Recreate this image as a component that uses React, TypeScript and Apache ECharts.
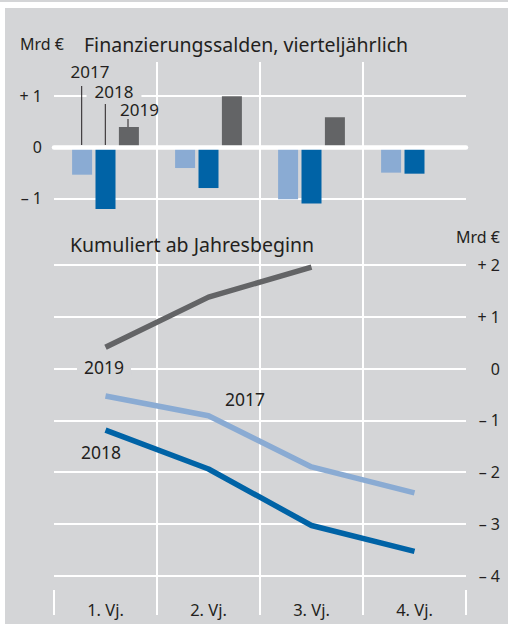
import React, { useEffect, useRef } from "react";
import * as echarts from "echarts";

const quarters = ["1. Vj.", "2. Vj.", "3. Vj.", "4. Vj."];
const bars2017 = [-0.54, -0.41, -1.02, -0.5];
const bars2018 = [-1.21, -0.8, -1.1, -0.52];
const bars2019 = [0.39, 0.99, 0.58, null];
const cum2017 = [-0.53, -0.91, -1.9, -2.4];
const cum2018 = [-1.19, -1.94, -3.03, -3.53];
const cum2019 = [0.41, 1.38, 1.96, null];
const topTicks = { min: -1, max: 1, interval: 1 };
const bottomTicks = { min: -4, max: 2, interval: 1 };

const FONT = "'Noto Sans', 'DejaVu Sans', sans-serif";
const PANEL = "#d4d5d7";
const TEXT = "#231f20";
const C2017 = "#8aabd3";
const C2018 = "#0063a6";
const C2019 = "#636466";

const fmt = (v: number) => (v > 0 ? `+ ${v}` : v < 0 ? `– ${-v}` : "0");

export default function App() {
  const ref = useRef<HTMLDivElement>(null);
  useEffect(() => {
    if (!ref.current) return;
    const chart = echarts.init(ref.current, undefined, { renderer: "svg" });
    const label = (text: string, x: number, y: number, size: number, opts: any = {}) => ({
      type: "text",
      x,
      y,
      z: 100,
      style: {
        text,
        fontSize: size,
        fontFamily: FONT,
        fill: TEXT,
        align: opts.align || "left",
        verticalAlign: "middle",
        ...(opts.lh ? { lineHeight: opts.lh } : {}),
        ...(opts.bg ? { backgroundColor: PANEL, padding: opts.pad || [0, 7] } : {}),
      },
    });
    const leader = (x: number, y1: number, y2: number) => ({
      type: "line",
      z: 100,
      shape: { x1: x, y1, x2: x, y2 },
      style: { stroke: TEXT, lineWidth: 1 },
    });
    const white = { color: "#ffffff", width: 2 };
    chart.setOption({
      animation: false,
      backgroundColor: "transparent",
      textStyle: { fontFamily: FONT },
      grid: [
        { left: 54, width: 412, top: 95.7, height: 102.6 },
        { left: 54, width: 412, top: 265, height: 310.7 },
        { left: 54, width: 412, top: 62, height: 528 },
      ],
      xAxis: [
        {
          type: "category",
          gridIndex: 0,
          data: quarters,
          z: 5,
          axisLine: { show: true, onZero: true, lineStyle: { color: "#ffffff", width: 4.5 } },
          axisTick: { show: false },
          axisLabel: { show: false },
          splitLine: { show: false },
        },
        { type: "category", gridIndex: 1, data: quarters, show: false },
        {
          type: "category",
          gridIndex: 2,
          data: quarters,
          position: "bottom",
          axisLine: { show: false },
          axisTick: { show: true, length: 25, lineStyle: white },
          axisLabel: { margin: 11, fontSize: 16.5, color: TEXT, fontFamily: FONT },
          splitLine: { show: false },
        },
        {
          type: "value",
          gridIndex: 2,
          min: 0,
          max: 4,
          interval: 1,
          position: "top",
          axisLine: { show: false },
          axisTick: { show: false },
          axisLabel: { show: false },
          splitLine: { show: true, showMinLine: false, showMaxLine: false, lineStyle: white },
        },
      ],
      yAxis: [
        {
          type: "value",
          gridIndex: 0,
          ...topTicks,
          axisLine: { show: false },
          axisTick: { show: false },
          axisLabel: { formatter: fmt, fontSize: 16, color: TEXT, margin: 12, fontFamily: FONT },
          splitLine: { show: true, lineStyle: white },
        },
        {
          type: "value",
          gridIndex: 1,
          position: "right",
          ...bottomTicks,
          axisLine: { show: false },
          axisTick: { show: false },
          axisLabel: { formatter: fmt, fontSize: 16, color: TEXT, margin: 34, align: "right", fontFamily: FONT },
          splitLine: { show: true, lineStyle: white },
        },
        { type: "value", gridIndex: 2, show: false, min: 0, max: 1 },
      ],
      series: [
        { name: "2017", type: "bar", clip: false, xAxisIndex: 0, yAxisIndex: 0, data: bars2017, barWidth: 20, barGap: "17%", itemStyle: { color: C2017 } },
        { name: "2018", type: "bar", clip: false, xAxisIndex: 0, yAxisIndex: 0, data: bars2018, barWidth: 20, barGap: "17%", itemStyle: { color: C2018 } },
        { name: "2019", type: "bar", clip: false, xAxisIndex: 0, yAxisIndex: 0, data: bars2019, barWidth: 20, barGap: "17%", itemStyle: { color: C2019 } },
        { name: "2017 kum", type: "line", xAxisIndex: 1, yAxisIndex: 1, data: cum2017, symbol: "none", lineStyle: { color: C2017, width: 5.5 } },
        { name: "2018 kum", type: "line", xAxisIndex: 1, yAxisIndex: 1, data: cum2018, symbol: "none", lineStyle: { color: C2018, width: 5.5 } },
        { name: "2019 kum", type: "line", xAxisIndex: 1, yAxisIndex: 1, data: cum2019, symbol: "none", lineStyle: { color: C2019, width: 5.5 } },
      ],
      graphic: [
        label("Mrd €", 20, 44, 16),
        label("Finanzierungssalden, vierteljährlich", 84, 44, 19.5),
        label("Kumuliert ab Jahresbeginn", 70, 244, 19.5),
        label("Mrd €", 500, 237, 16, { align: "right" }),
        leader(81.7, 86, 145),
        leader(105.3, 104, 145),
        leader(128, 119, 127),
        label("2017", 90, 71, 17, { align: "center", lh: 14 }),
        label("2018", 114, 91, 17, { align: "center", lh: 14, bg: true, pad: [0, 8] }),
        label("2019", 139.5, 109.5, 17, { align: "center", lh: 14 }),
        label("2019", 104, 367, 17.5, { align: "center", lh: 16, bg: true }),
        label("2017", 245, 399, 17.5, { align: "center" }),
        label("2018", 101, 452, 17.5, { align: "center" }),
      ],
    });
    return () => chart.dispose();
  }, []);
  return (
    <div style={{ position: "fixed", left: 0, top: 0, width: 508, height: 624, background: "#ffffff", overflow: "hidden" }}>
      <div style={{ position: "absolute", left: 0, top: 0, width: 508, height: 2, background: PANEL }} />
      <div style={{ position: "absolute", left: 5, top: 8, width: 503, height: 616, background: PANEL }} />
      <div ref={ref} style={{ position: "absolute", left: 0, top: 0, width: 508, height: 624 }} />
    </div>
  );
}
